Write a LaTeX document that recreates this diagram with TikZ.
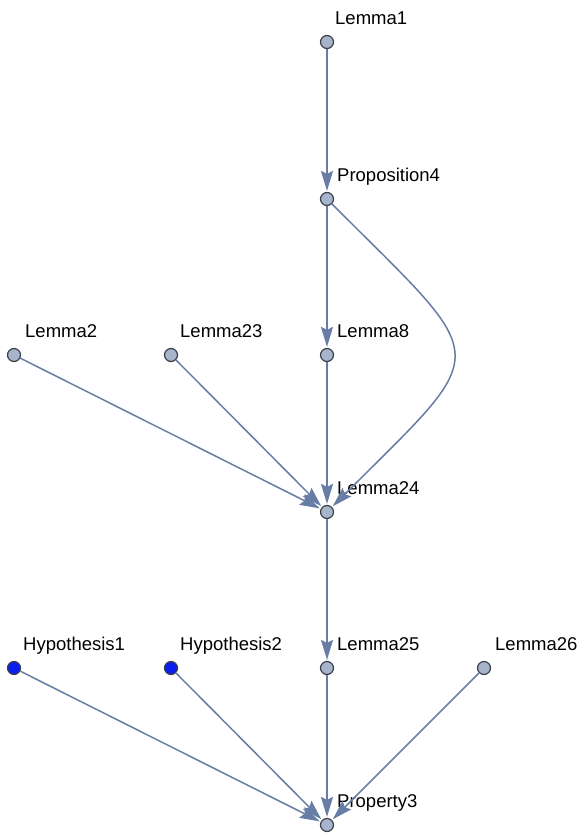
\documentclass[tikz,border=0pt]{standalone}
\usepackage{fontspec}
\setmainfont{Liberation Sans}
\usetikzlibrary{arrows.meta}
\definecolor{edgecol}{RGB}{104,125,166}
\definecolor{vtxfill}{RGB}{166,180,204}
\definecolor{vtxline}{RGB}{60,64,72}
\definecolor{hypfill}{RGB}{10,30,240}
\begin{document}
\begin{tikzpicture}[x=1pt, y=-1pt,
		vtx/.style={circle, draw=vtxline, fill=vtxfill, line width=1.2pt, minimum size=13pt, inner sep=0pt},
		hyp/.style={vtx, fill=hypfill},
		lbl/.style={anchor=base west, font=\fontsize{18.5}{20}\selectfont, inner sep=0pt},
		edge/.style={draw=edgecol, line width=1.5pt, shorten >=1pt, -{Stealth[length=20pt, width=12pt, inset=3pt]}}]
		\useasboundingbox (0,0) rectangle (581,836);

		% vertices
		\node[vtx] (lemma1) at (327, 42) {};
		\node[vtx] (prop4) at (327, 199) {};
		\node[vtx] (lemma2) at (14, 355) {};
		\node[vtx] (lemma23) at (171, 355) {};
		\node[vtx] (lemma8) at (327, 355) {};
		\node[vtx] (lemma24) at (327, 512) {};
		\node[hyp] (hyp1) at (14, 668) {};
		\node[hyp] (hyp2) at (171, 668) {};
		\node[vtx] (lemma25) at (327, 668) {};
		\node[vtx] (lemma26) at (484, 668) {};
		\node[vtx] (prop3) at (327, 825) {};

		% labels
		\node[lbl] (lemma1-l) at (335, 24) {Lemma1};
		\node[lbl] (prop4-l) at (337, 181) {Proposition4};
		\node[lbl] (lemma2-l) at (25, 337) {Lemma2};
		\node[lbl] (lemma23-l) at (180, 337) {Lemma23};
		\node[lbl] (lemma8-l) at (337, 337) {Lemma8};
		\node[lbl] (lemma24-l) at (337, 494) {Lemma24};
		\node[lbl] (hyp1-l) at (23, 650) {Hypothesis1};
		\node[lbl] (hyp2-l) at (180, 650) {Hypothesis2};
		\node[lbl] (lemma25-l) at (337, 650) {Lemma25};
		\node[lbl] (lemma26-l) at (495, 650) {Lemma26};
		\node[lbl] (prop3-l) at (337, 807) {Property3};

		% edges
		\foreach \a/\b in {lemma1/prop4, prop4/lemma8, lemma2/lemma24, lemma23/lemma24,
				lemma8/lemma24, lemma24/lemma25, hyp1/prop3, hyp2/prop3, lemma25/prop3, lemma26/prop3}{
				\draw[edge] (\a) -- (\b);
			}
		\draw[edge] (prop4) .. controls (494, 366) and (494, 345) .. (lemma24);
	\end{tikzpicture}
\end{document}
